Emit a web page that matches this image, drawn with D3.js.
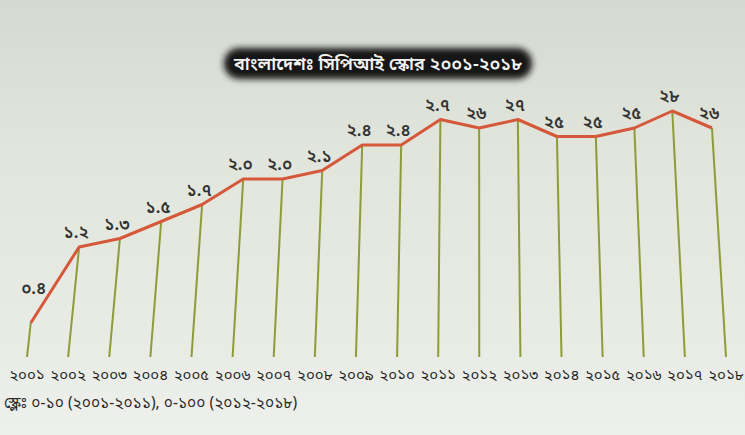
<!DOCTYPE html>
<html>
<head>
<meta charset="utf-8">
<title>bd cpi</title>
<style>
  body { margin: 0; background: #e3e6de; }
  svg { display: block; }
</style>
</head>
<body>
<svg width="745" height="435"></svg>
<script src="https://cdn.jsdelivr.net/npm/d3@7"></script>
<script>
const width = 745;
const height = 435;

const years = [2001, 2002, 2003, 2004, 2005, 2006, 2007, 2008, 2009, 2010, 2011, 2012, 2013, 2014, 2015, 2016, 2017, 2018];
// 2001-2011 on a 0-10 scale, 2012-2018 on 0-100
const scores = [0.4, 1.2, 1.3, 1.5, 1.7, 2.0, 2.0, 2.1, 2.4, 2.4, 2.7, 26, 27, 25, 25, 26, 28, 26];
const scoreLabels = ["০.৪", "১.২", "১.৩", "১.৫", "১.৭", "২.০", "২.০", "২.১", "২.৪", "২.৪", "২.৭", "২৬", "২৭", "২৫", "২৫", "২৫", "২৮", "২৬"];
const yearLabels = ["২০০১", "২০০২", "২০০৩", "২০০৪", "২০০৫", "২০০৬", "২০০৭", "২০০৮", "২০০৯", "২০১০", "২০১১", "২০১২", "২০১৩", "২০১৪", "২০১৫", "২০১৬", "২০১৭", "২০১৮"];
const title = "বাংলাদেশঃ সিপিআই স্কোর ২০০১-২০১৮";
const note = "স্কেলঃ ০-১০ (২০০১-২০১১), ০-১০০ (২০১২-২০১৮)";

const bnFont = "'Noto Sans Bengali', 'Noto Serif Bengali', 'Lohit Bengali', 'Mukti', 'FreeSans', 'Noto Sans', sans-serif";

const data = years.map((y, i) => ({
    year: y,
    value: y >= 2012 ? scores[i] / 10 : scores[i],
    label: scoreLabels[i],
    yearLabel: yearLabels[i]
}));

const baseY = 357;
const topY = 112;

// photo is a bit keystoned: columns fan out towards the bottom
const xBottom = d3.scaleLinear().domain([2001, 2018]).range([27, 726]);
const xTop = d3.scaleLinear().domain([2001, 2018]).range([54, 711]);
const y = d3.scaleLinear().domain([0.4, 1.2, 2.8]).range([323, 247, 111]);

const xAt = (yr, py) => {
    const t = (baseY - py) / (baseY - topY);
    return xBottom(yr) + (xTop(yr) - xBottom(yr)) * t;
};

const svg = d3.select("svg");
const defs = svg.append("defs");

const bg = defs.append("linearGradient")
    .attr("id", "paper")
    .attr("x1", 0).attr("y1", 0).attr("x2", 0).attr("y2", 1);
bg.append("stop").attr("offset", "0%").attr("stop-color", "#d6d9d2");
bg.append("stop").attr("offset", "35%").attr("stop-color", "#e1e5db");
bg.append("stop").attr("offset", "80%").attr("stop-color", "#e9ece5");
bg.append("stop").attr("offset", "100%").attr("stop-color", "#eef0ec");

defs.append("filter")
    .attr("id", "soft")
    .attr("x", "-10%").attr("y", "-50%").attr("width", "120%").attr("height", "200%")
    .append("feGaussianBlur").attr("stdDeviation", 3);

svg.append("rect")
    .attr("width", width)
    .attr("height", height)
    .attr("fill", "url(#paper)");

// title pill
svg.append("rect")
    .attr("x", 224).attr("y", 48)
    .attr("width", 308).attr("height", 31)
    .attr("rx", 15)
    .attr("fill", "#141414")
    .attr("filter", "url(#soft)");

svg.append("text")
    .attr("x", 378).attr("y", 70)
    .attr("text-anchor", "middle")
    .attr("fill", "#f4f4f4")
    .attr("font-family", bnFont)
    .attr("font-size", 18)
    .attr("font-weight", "600")
    .text(title);

// drop lines
svg.append("g")
    .attr("stroke", "#8d9c38")
    .attr("stroke-width", 2)
    .selectAll("line")
    .data(data)
    .join("line")
        .attr("x1", d => xAt(d.year, y(d.value)))
        .attr("y1", d => y(d.value))
        .attr("x2", d => xBottom(d.year))
        .attr("y2", baseY);

// score line
const line = d3.line()
    .x(d => xAt(d.year, y(d.value)))
    .y(d => y(d.value));

svg.append("path")
    .datum(data)
    .attr("fill", "none")
    .attr("stroke", "#d6583a")
    .attr("stroke-width", 3)
    .attr("stroke-linejoin", "round")
    .attr("d", line);

// value labels
svg.append("g")
    .attr("font-family", bnFont)
    .attr("font-size", 17)
    .attr("font-weight", "600")
    .attr("fill", "#333")
    .attr("text-anchor", "middle")
    .selectAll("text")
    .data(data)
    .join("text")
        .attr("x", (d, i) => xAt(d.year, y(d.value)) + (i == 0 ? 3 : -3))
        .attr("y", (d, i) => y(d.value) - (i == 0 ? 29 : 9))
        .text(d => d.label);

// year axis labels
svg.append("g")
    .attr("font-family", bnFont)
    .attr("font-size", 15)
    .attr("fill", "#1f1f1f")
    .attr("text-anchor", "middle")
    .selectAll("text")
    .data(data)
    .join("text")
        .attr("x", d => xBottom(d.year))
        .attr("y", 380)
        .text(d => d.yearLabel);

svg.append("text")
    .attr("x", 4).attr("y", 408)
    .attr("font-family", bnFont)
    .attr("font-size", 15.5)
    .attr("fill", "#2a2a2a")
    .text(note);
</script>
</body>
</html>
